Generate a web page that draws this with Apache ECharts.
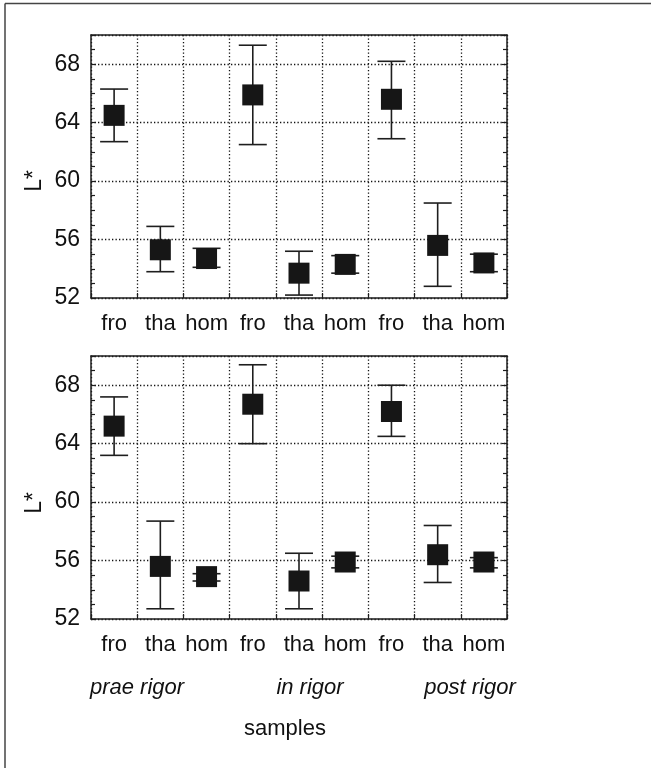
<!DOCTYPE html>
<html>
<head>
<meta charset="utf-8">
<style>
  html, body { margin: 0; padding: 0; background: #fff; }
  #chart { width: 651px; height: 768px; }
</style>
<script src="https://cdn.jsdelivr.net/npm/echarts@6/dist/echarts.min.js"></script>
</head>
<body>
<div id="chart"></div>
<script>
// Sample treatments along the x axis (three per rigor stage)
const categories = ['fro', 'tha', 'hom', 'fro', 'tha', 'hom', 'fro', 'tha', 'hom'];
const stageLabels = ['prae rigor', 'in rigor', 'post rigor'];
const xTitle = 'samples';
const yTitle = 'L*';

// Upper panel: mean L* with lower / upper whisker ends
const topMean = [64.5, 55.3, 54.7, 65.9, 53.7, 54.3, 65.6, 55.6, 54.4];
const topLow  = [62.7, 53.8, 54.1, 62.5, 52.2, 53.7, 62.9, 52.8, 53.8];
const topHigh = [66.3, 56.9, 55.4, 69.3, 55.2, 54.9, 68.2, 58.5, 55.0];

// Lower panel
const botMean = [65.2, 55.6, 54.9, 66.7, 54.6, 55.9, 66.2, 56.4, 55.9];
const botLow  = [63.2, 52.7, 54.6, 64.0, 52.7, 55.5, 64.5, 54.5, 55.5];
const botHigh = [67.2, 58.7, 55.1, 69.4, 56.5, 56.3, 68.0, 58.4, 56.2];

const FONT = '"Liberation Sans", Arial, sans-serif';
const INK = '#1e1e1e';

const chart = echarts.init(document.getElementById('chart'), null, { renderer: 'canvas' });

const grids = [
  { left: 91, right: 144, top: 35, height: 263 },
  { left: 91, right: 144, top: 356, height: 263 }
];

function xAxes(gi) {
  return [
    {
      type: 'category', gridIndex: gi, data: categories, position: 'bottom',
      boundaryGap: true,
      axisLine: { lineStyle: { color: INK, width: 1.5 } },
      axisTick: { show: true, inside: true, length: 5, interval: 0, lineStyle: { color: INK, width: 1.2 } },
      axisLabel: { interval: 0, margin: 15, color: '#111', fontFamily: FONT, fontSize: 22 },
      splitLine: { show: true, interval: 0, lineStyle: { color: '#111', width: 1.3, type: [1.3, 2.2] } }
    },
    {
      type: 'category', gridIndex: gi, data: categories, position: 'top',
      boundaryGap: true,
      axisLine: { show: true, lineStyle: { color: INK, width: 1.5 } },
      axisTick: { show: false },
      axisLabel: { show: false },
      splitLine: { show: false }
    }
  ];
}

function yAxes(gi) {
  const common = {
    type: 'value', gridIndex: gi, min: 52, max: 70, interval: 4,
    axisLine: { show: true, lineStyle: { color: INK, width: 1.5 } },
    axisTick: { show: true, inside: true, length: 5, lineStyle: { color: INK, width: 1.2 } },
    minorTick: { show: true, splitNumber: 4, length: 4, lineStyle: { color: INK, width: 1.2 } }
  };
  return [
    Object.assign({}, common, {
      position: 'left',
      axisLabel: {
        margin: 11, color: '#111', fontFamily: FONT, fontSize: 23,
        formatter: v => (v % 4 === 0 ? String(v) : '')
      },
      splitLine: { show: true, lineStyle: { color: '#111', width: 1.3, type: [1.3, 2.2] } }
    }),
    Object.assign({}, common, {
      position: 'right',
      axisLabel: { show: false },
      splitLine: { show: false }
    })
  ];
}

function whiskerSeries(gi, low, high) {
  return {
    type: 'custom',
    xAxisIndex: gi * 2, yAxisIndex: gi * 2,
    data: categories.map((c, i) => [i, low[i], high[i]]),
    encode: { x: 0, y: [1, 2] },
    z: 3,
    silent: true,
    renderItem: function (params, api) {
      const lo = api.coord([api.value(0), api.value(1)]);
      const hi = api.coord([api.value(0), api.value(2)]);
      const half = 14;
      const style = { stroke: INK, lineWidth: 1.6 };
      return {
        type: 'group',
        children: [
          { type: 'line', shape: { x1: lo[0], y1: lo[1], x2: hi[0], y2: hi[1] }, style },
          { type: 'line', shape: { x1: hi[0] - half, y1: hi[1], x2: hi[0] + half, y2: hi[1] }, style },
          { type: 'line', shape: { x1: lo[0] - half, y1: lo[1], x2: lo[0] + half, y2: lo[1] }, style }
        ]
      };
    }
  };
}

function meanSeries(gi, mean) {
  return {
    type: 'scatter',
    xAxisIndex: gi * 2, yAxisIndex: gi * 2,
    data: categories.map((c, i) => [i, mean[i]]),
    symbol: 'rect',
    symbolSize: 21,
    z: 4,
    silent: true,
    itemStyle: { color: '#161616', opacity: 1 }
  };
}

const textStyle = (extra) => Object.assign({ fill: '#111', font: '22px ' + FONT }, extra);

chart.setOption({
  animation: false,
  backgroundColor: '#fff',
  grid: grids,
  xAxis: [...xAxes(0), ...xAxes(1)],
  yAxis: [...yAxes(0), ...yAxes(1)],
  series: [
    whiskerSeries(0, topLow, topHigh),
    meanSeries(0, topMean),
    whiskerSeries(1, botLow, botHigh),
    meanSeries(1, botMean)
  ],
  graphic: [
    // page frame (top and left edges)
    { type: 'line', shape: { x1: 5, y1: 3.5, x2: 651, y2: 3.5 }, style: { stroke: '#444', lineWidth: 1.5 } },
    { type: 'line', shape: { x1: 5, y1: 3.5, x2: 5, y2: 768 }, style: { stroke: '#444', lineWidth: 1.5 } },
    // y titles
    { type: 'text', x: 35, y: 181, rotation: Math.PI / 2,
      style: textStyle({ text: yTitle, font: '23px ' + FONT, textAlign: 'center', textVerticalAlign: 'middle' }) },
    { type: 'text', x: 35, y: 503, rotation: Math.PI / 2,
      style: textStyle({ text: yTitle, font: '23px ' + FONT, textAlign: 'center', textVerticalAlign: 'middle' }) },
    // rigor stages
    { type: 'text', x: 137, y: 688,
      style: textStyle({ text: stageLabels[0], font: 'italic 22px ' + FONT, textAlign: 'center', textVerticalAlign: 'middle' }) },
    { type: 'text', x: 310, y: 688,
      style: textStyle({ text: stageLabels[1], font: 'italic 22px ' + FONT, textAlign: 'center', textVerticalAlign: 'middle' }) },
    { type: 'text', x: 470, y: 688,
      style: textStyle({ text: stageLabels[2], font: 'italic 22px ' + FONT, textAlign: 'center', textVerticalAlign: 'middle' }) },
    // x title
    { type: 'text', x: 285, y: 729,
      style: textStyle({ text: xTitle, font: '22px ' + FONT, textAlign: 'center', textVerticalAlign: 'middle' }) }
  ]
});
</script>
</body>
</html>
